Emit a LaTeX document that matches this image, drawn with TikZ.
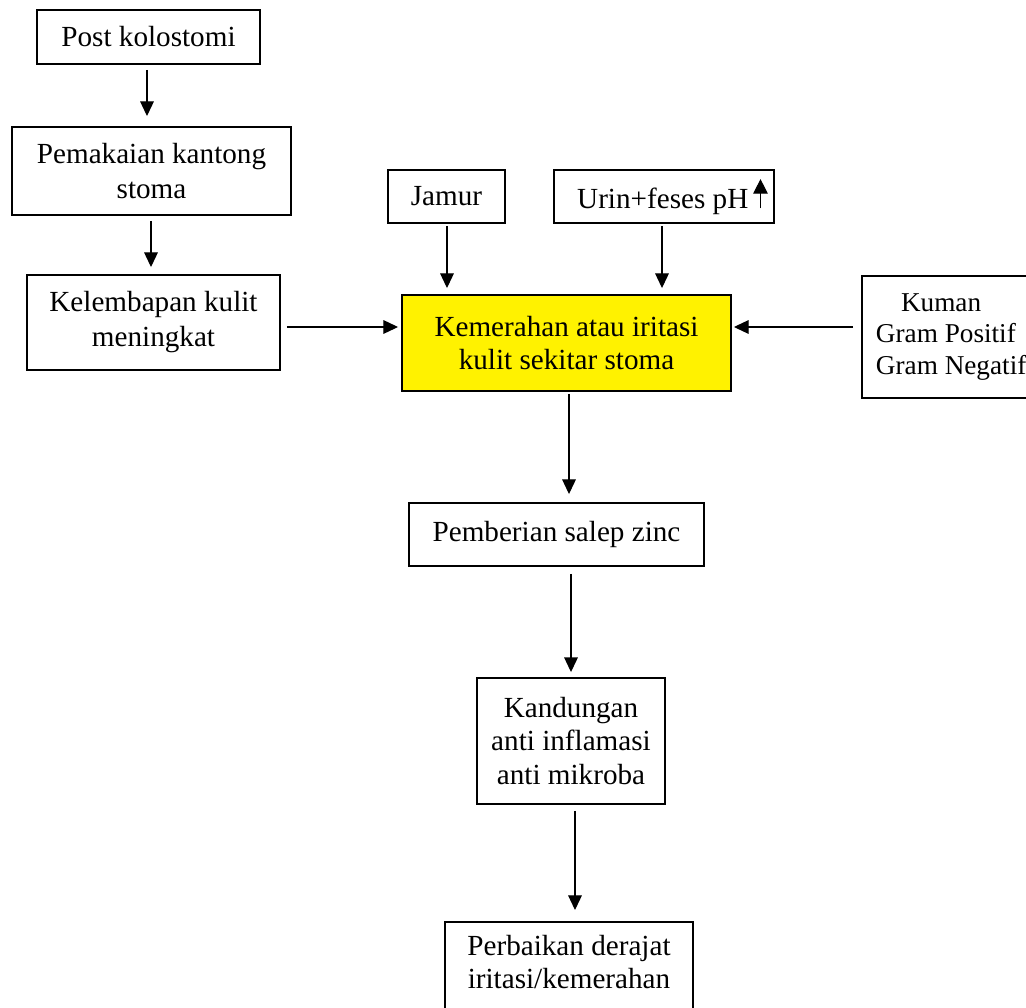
\documentclass[tikz,border=0pt]{standalone}
\usepackage{fontspec}
\setmainfont{Liberation Serif}
\usetikzlibrary{arrows.meta,calc}
\tikzset{
  box/.style={draw, line width=0.8pt, inner sep=0pt, align=center},
  arr/.style={line width=0.45pt, -{Triangle[width=5.6pt,length=6pt]}},
  fA/.style={font=\fontsize{12pt}{14.4pt}\selectfont},
  fB/.style={font=\fontsize{12pt}{13.7pt}\selectfont},
  fC/.style={font=\fontsize{11.2pt}{12.8pt}\selectfont},
  fD/.style={font=\fontsize{12pt}{13.6pt}\selectfont}
}
\begin{document}
\begin{tikzpicture}[x=0.4115pt, y=-0.4115pt]
\useasboundingbox (0,0) rectangle (1026,1008);
\clip (0,0) rectangle (1026,1008);

\node[box, fA, minimum width=223*0.4115pt, minimum height=54*0.4115pt] (post) at (148.5,37) {Post kolostomi};
\node[box, fA, minimum width=279*0.4115pt, minimum height=88*0.4115pt] (pem) at (151.5,171) {Pemakaian kantong\\stoma};
\node[box, fA, minimum width=253*0.4115pt, minimum height=95*0.4115pt] (kel) at (153.5,322.5) {Kelembapan kulit\\meningkat};
\node[box, fA, minimum width=117*0.4115pt, minimum height=53*0.4115pt] (jamur) at (446.5,196.5) {Jamur};
\node[box, fA, minimum width=220*0.4115pt, minimum height=53*0.4115pt] (urin) at (664,196.5)
  {\hspace*{7pt}Urin+feses pH\,\tikz[baseline=0pt]\draw[line width=0.45pt,-{Triangle[width=6pt,length=6pt]}] (0pt,0pt) -- (0pt,12pt);};
\node[box, fB, fill=yellow, minimum width=329*0.4115pt, minimum height=96*0.4115pt] (iritasi) at (566.5,343) {Kemerahan atau iritasi\\kulit sekitar stoma};
\node[box, fC, anchor=west, align=left, inner xsep=5.76pt, minimum height=122*0.4115pt] (kuman) at (861,337)
  {\hspace*{10.3pt}Kuman\\Gram Positif\\Gram Negatif\hspace*{8pt}};
\node[box, fA, minimum width=295*0.4115pt, minimum height=63*0.4115pt] (salep) at (556.5,534.5) {Pemberian salep zinc};
\node[box, fB, minimum width=188*0.4115pt, minimum height=126*0.4115pt] (kand) at (571,741) {Kandungan\\anti inflamasi\\anti mikroba};
\node[box, fD, anchor=north, inner ysep=5.3pt, minimum width=248*0.4115pt] (perb) at (569,921)
  {Perbaikan derajat\\iritasi/kemerahan\rule[-22pt]{0pt}{0pt}};

\draw[arr] ($(post.south)+(-1.5,5)$) -- ($(pem.north)+(-4.5,-10)$);
\draw[arr] ($(pem.south)+(-0.5,5)$) -- ($(kel.north)+(-2.5,-7)$);
\draw[arr] ($(kel.east)+(6,4.5)$) -- ($(iritasi.west)+(-3,-16)$);
\draw[arr] ($(jamur.south)+(0.5,2)$) -- ($(iritasi.north)+(-119.5,-6)$);
\draw[arr] ($(urin.south)+(-2,2)$) -- ($(iritasi.north)+(95.5,-6)$);
\draw[arr] ($(kuman.west)+(-8,-10)$) -- ($(iritasi.east)+(2,-16)$);
\draw[arr] ($(iritasi.south)+(2.5,2)$) -- ($(salep.north)+(12.5,-8)$);
\draw[arr] ($(salep.south)+(14.5,7)$) -- ($(kand.north)+(0,-5)$);
\draw[arr] ($(kand.south)+(4,6)$) -- ($(perb.north)+(6,-11)$);
\end{tikzpicture}
\end{document}
